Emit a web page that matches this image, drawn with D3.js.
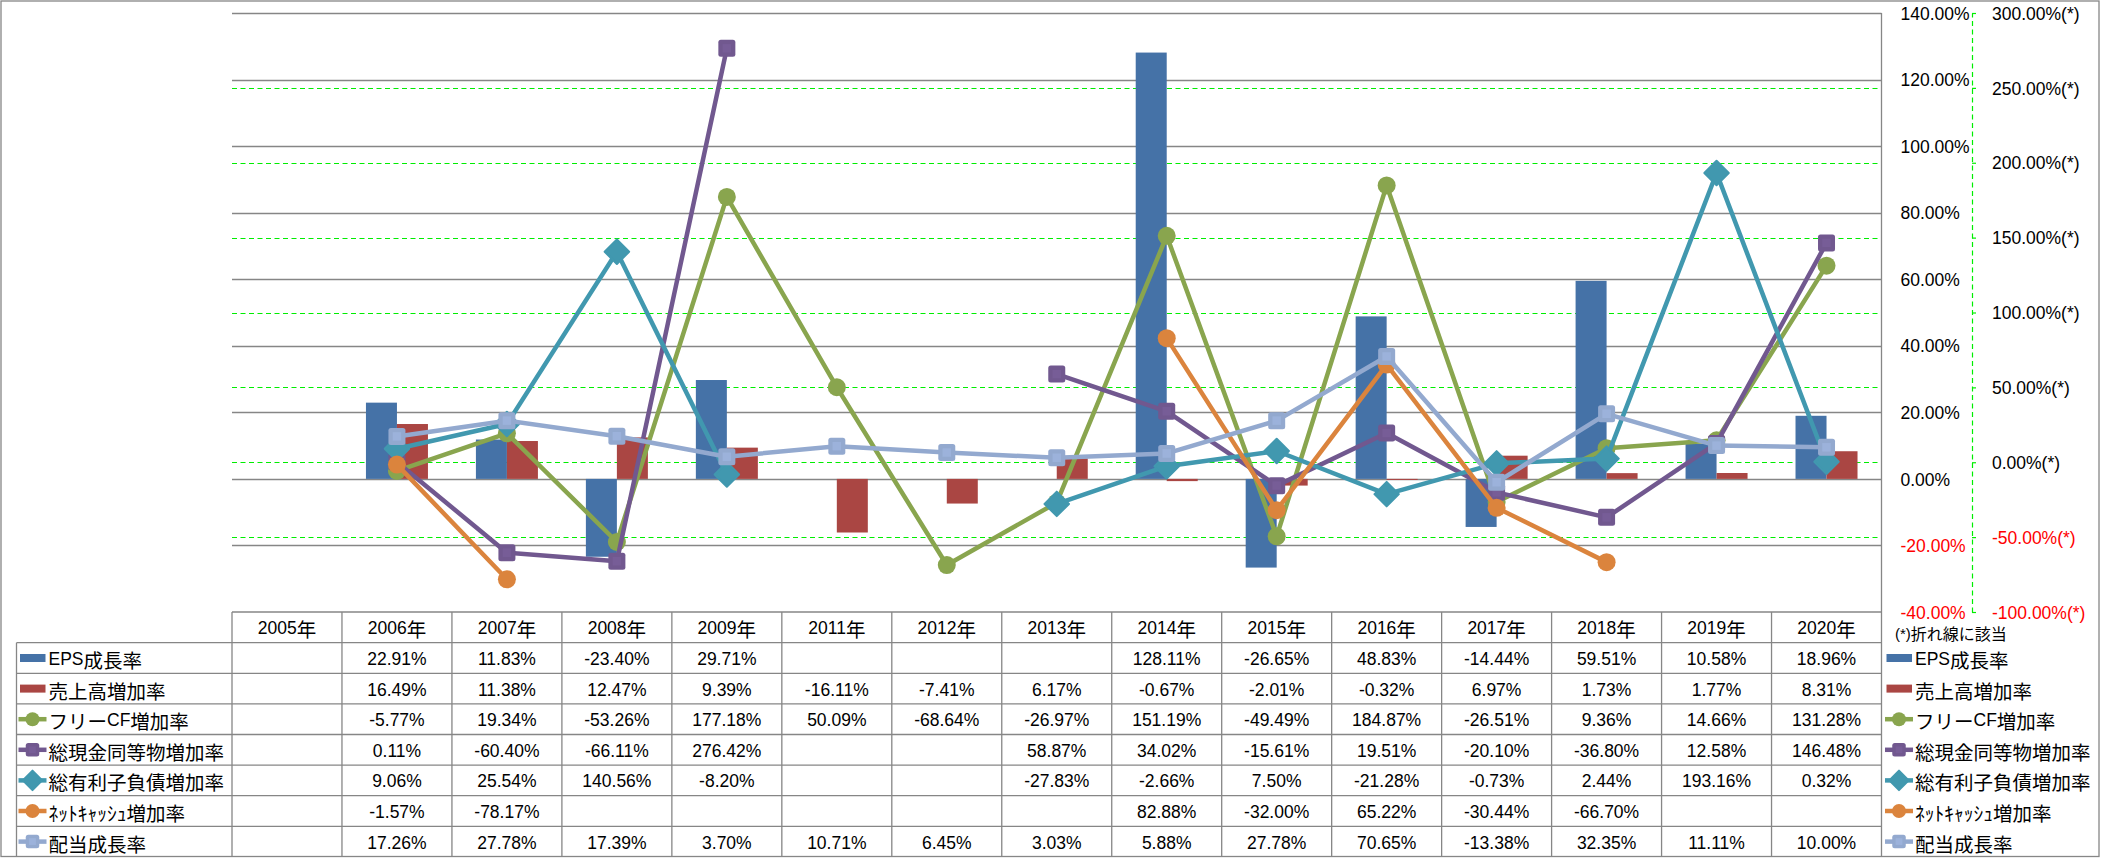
<!DOCTYPE html>
<html><head><meta charset="utf-8">
<script src="https://cdn.jsdelivr.net/npm/d3@7/dist/d3.min.js"></script>
<style>
html,body{margin:0;padding:0;background:#fff;}
svg{display:block;}
</style></head>
<body><svg id="c" width="2101" height="858"></svg>
<script>
// ---------- data ----------
const years = ["2005年","2006年","2007年","2008年","2009年","2011年","2012年","2013年","2014年","2015年","2016年","2017年","2018年","2019年","2020年"];
const epsGrowth   = [null, 22.91, 11.83, -23.40, 29.71, null, null, null, 128.11, -26.65, 48.83, -14.44, 59.51, 10.58, 18.96];
const salesGrowth = [null, 16.49, 11.38, 12.47, 9.39, -16.11, -7.41, 6.17, -0.67, -2.01, -0.32, 6.97, 1.73, 1.77, 8.31];
const fcfGrowth   = [null, -5.77, 19.34, -53.26, 177.18, 50.09, -68.64, -26.97, 151.19, -49.49, 184.87, -26.51, 9.36, 14.66, 131.28];
const cashGrowth  = [null, 0.11, -60.40, -66.11, 276.42, null, null, 58.87, 34.02, -15.61, 19.51, -20.10, -36.80, 12.58, 146.48];
const debtGrowth  = [null, 9.06, 25.54, 140.56, -8.20, null, null, -27.83, -2.66, 7.50, -21.28, -0.73, 2.44, 193.16, 0.32];
const netCashGrowth = [null, -1.57, -78.17, null, null, null, null, null, 82.88, -32.00, 65.22, -30.44, -66.70, null, null];
const dividendGrowth = [null, 17.26, 27.78, 17.39, 3.70, 10.71, 6.45, 3.03, 5.88, 27.78, 70.65, -13.38, 32.35, 11.11, 10.00];

const seriesNames = ["EPS成長率","売上高増加率","フリーCF増加率","総現金同等物増加率","総有利子負債増加率","ﾈｯﾄｷｬｯｼｭ増加率","配当成長率"];
const primaryTicks = [-40,-20,0,20,40,60,80,100,120,140];
const secondaryTicks = [-100,-50,0,50,100,150,200,250,300];
const noteText = "(*)折れ線に該当";

// ---------- series definitions ----------
const barSeries = [
  {name: seriesNames[0], values: epsGrowth, color: "#4572A7"},
  {name: seriesNames[1], values: salesGrowth, color: "#AA4643"}
];
const lineSeries = [
  {name: seriesNames[2], values: fcfGrowth, color: "#89A54E", marker: "circle"},
  {name: seriesNames[3], values: cashGrowth, color: "#71588F", marker: "square"},
  {name: seriesNames[4], values: debtGrowth, color: "#4198AF", marker: "diamond"},
  {name: seriesNames[5], values: netCashGrowth, color: "#DB843D", marker: "circle"},
  {name: seriesNames[6], values: dividendGrowth, color: "#93A9CF", marker: "square"}
];
const allSeries = [...barSeries.map(s=>({...s,type:"bar"})), ...lineSeries.map(s=>({...s,type:"line"}))];

// ---------- layout ----------
const svg = d3.select("#c");
const W = 2101, H = 858;
const plot = {left: 232, right: 1881.5, top: 13, bottom: 612};
const gridColor = "#868686";
const latinFont = "'Liberation Sans', Arial, sans-serif";
const cjkFont = "'Noto Sans CJK JP', 'Noto Sans CJK SC', sans-serif";

const x = d3.scaleBand().domain(years).range([plot.left, plot.right]).padding(0);
const barW = 31;
const xb = d3.scaleBand().domain(barSeries.map(s=>s.name))
  .range([0, x.bandwidth()]).paddingInner(0).paddingOuter((x.bandwidth()/barW - 2)/2);
const yL = d3.scaleLinear().domain([-40, 140]).range([plot.bottom, plot.top]);
const yR = d3.scaleLinear().domain([-100, 300]).range([plot.bottom, plot.top]);

// outer border
svg.append("rect").attr("x",1).attr("y",1).attr("width",W-3).attr("height",H-2.5)
  .attr("fill","#fff").attr("stroke",gridColor).attr("stroke-width",1.3);

// mixed text helper (latin runs in latin font, CJK runs in CJK font)
function mixedText(sel, str, latinSize, cjkSize){
  const parts = str.match(/[\x00-\x7F]+|[^\x00-\x7F]+/g) || [];
  parts.forEach(p=>{
    const latin = /^[\x00-\x7F]+$/.test(p);
    sel.append("tspan").text(p)
      .attr("font-family", latin ? latinFont : cjkFont)
      .attr("font-size", latin ? latinSize : cjkSize);
  });
}

// ---------- gridlines ----------
const grid = svg.append("g");
grid.selectAll("line.gp").data(primaryTicks.filter(t=>t>-40)).join("line")
  .attr("x1", plot.left).attr("x2", plot.right)
  .attr("y1", d=>Math.round(yL(d))+0.5).attr("y2", d=>Math.round(yL(d))+0.5)
  .attr("stroke", gridColor).attr("stroke-width", 1.3);
grid.selectAll("line.gs").data(secondaryTicks.filter(t=>t>-100 && t<300)).join("line")
  .attr("x1", plot.left).attr("x2", plot.right)
  .attr("y1", d=>Math.round(yR(d))+0.5).attr("y2", d=>Math.round(yR(d))+0.5)
  .attr("stroke", "#00EE00").attr("stroke-width", 1.2).attr("stroke-dasharray","5,3.5");

// ---------- bars ----------
const barsG = svg.append("g");
barSeries.forEach(s=>{
  barsG.append("g").selectAll("rect").data(s.values.map((v,i)=>({v, cat: years[i]})).filter(d=>d.v!=null))
    .join("rect")
    .attr("x", d=>x(d.cat)+xb(s.name))
    .attr("width", xb.bandwidth())
    .attr("y", d=>Math.min(yL(d.v), yL(0)))
    .attr("height", d=>Math.abs(yL(d.v)-yL(0)))
    .attr("fill", s.color);
});

// ---------- lines ----------
function drawMarker(g, type, color, size){
  if(type==="circle"){
    g.append("circle").attr("r", size/2).attr("fill", color);
  } else if(type==="square"){
    g.append("rect").attr("x",-size/2).attr("y",-size/2).attr("width",size).attr("height",size)
      .attr("rx",2.5).attr("fill", color);
    g.append("rect").attr("x",-size/4).attr("y",-size/4).attr("width",size/2).attr("height",size/2)
      .attr("fill", d3.color(color).brighter(0.25)).attr("opacity",0.6);
  } else if(type==="diamond"){
    const h = size*0.72;
    g.append("path").attr("d", `M0,${-h}L${h},0L0,${h}L${-h},0Z`).attr("fill", color)
      .attr("stroke", color).attr("stroke-width",2).attr("stroke-linejoin","round");
  }
}
const linesG = svg.append("g");
const lineGen = d3.line().defined(d=>d.v!=null).x(d=>x(d.cat)+x.bandwidth()/2).y(d=>yR(d.v));
lineSeries.forEach(s=>{
  const pts = s.values.map((v,i)=>({v, cat: years[i]}));
  const g = linesG.append("g");
  g.append("path").datum(pts).attr("d", lineGen).attr("fill","none")
    .attr("stroke", s.color).attr("stroke-width", 4.5).attr("stroke-linejoin","round");
  pts.filter(d=>d.v!=null).forEach(d=>{
    const mg = g.append("g").attr("transform", `translate(${x(d.cat)+x.bandwidth()/2},${yR(d.v)})`);
    drawMarker(mg, s.marker, s.color, s.marker==="circle" ? 18 : 17);
  });
});

// ---------- axes ----------
// primary axis line (right border of plot, extends through table)
svg.append("line").attr("x1", 1881.5).attr("x2", 1881.5).attr("y1", plot.top).attr("y2", H-1)
  .attr("stroke", gridColor).attr("stroke-width", 1.3);

const axL = svg.append("g").attr("transform", `translate(${plot.right},0)`)
  .call(d3.axisRight(yL).tickValues(primaryTicks).tickSize(0).tickPadding(19)
    .tickFormat(d=>d.toFixed(2)+"%"));
axL.select(".domain").remove();
axL.selectAll("text").attr("font-family", latinFont).attr("font-size", 17.5)
  .attr("fill", d=>d<0 ? "#FF0000" : "#000").attr("dy","0.35em");

const axR = svg.append("g").attr("transform", `translate(1972,0)`)
  .call(d3.axisRight(yR).tickValues(secondaryTicks).tickSizeInner(4).tickSizeOuter(0).tickPadding(16)
    .tickFormat(d=>d.toFixed(2)+"%(*)"));
axR.select(".domain").attr("stroke","#00EE00").attr("stroke-width",1.2).attr("stroke-dasharray","5,3.5");
axR.selectAll(".tick line").attr("stroke","#00EE00").attr("stroke-width",1.2);
axR.selectAll("text").attr("font-family", latinFont).attr("font-size", 17.5)
  .attr("fill", d=>d<0 ? "#FF0000" : "#000").attr("dy","0.35em");

// ---------- data table ----------
const tbl = svg.append("g");
const headerTop = plot.bottom, headerH = 30.7, rowH = 30.6;
const rowsTop = headerTop + headerH;
const tableBottom = H - 1.5;
const labelLeft = 16.5;
const rowY = i => rowsTop + i*rowH;

// horizontal lines: header top and header bottom over the year columns
tbl.append("line").attr("x1", plot.left).attr("x2", plot.right).attr("y1", headerTop).attr("y2", headerTop)
  .attr("stroke", gridColor).attr("stroke-width",1.3);
d3.range(allSeries.length).forEach(i=>{
  tbl.append("line").attr("x1", labelLeft).attr("x2", plot.right)
    .attr("y1", rowY(i)).attr("y2", rowY(i)).attr("stroke", gridColor).attr("stroke-width",1.3);
});
// vertical lines
tbl.append("line").attr("x1", labelLeft).attr("x2", labelLeft).attr("y1", rowsTop).attr("y2", tableBottom)
  .attr("stroke", gridColor).attr("stroke-width",1.3);
tbl.selectAll("line.v").data(years).join("line")
  .attr("x1", d=>x(d)).attr("x2", d=>x(d)).attr("y1", headerTop).attr("y2", tableBottom)
  .attr("stroke", gridColor).attr("stroke-width",1.3);

// year header text
years.forEach(yv=>{
  const t = tbl.append("text").attr("x", x(yv)+x.bandwidth()/2).attr("y", headerTop+headerH/2+1)
    .attr("text-anchor","middle").attr("dominant-baseline","central").attr("fill","#000");
  mixedText(t, yv, 17.5, 19.5);
});

// legend key
function legendKey(g, s, cx, cy){
  if(s.type==="bar"){
    g.append("rect").attr("x", cx-12.5).attr("y", cy-4).attr("width", 25.5).attr("height", 8).attr("fill", s.color);
  } else {
    g.append("line").attr("x1", cx-14).attr("x2", cx+14).attr("y1", cy).attr("y2", cy)
      .attr("stroke", s.color).attr("stroke-width", 4.5);
    const mg = g.append("g").attr("transform", `translate(${cx},${cy})`);
    drawMarker(mg, s.marker, s.color, s.marker==="circle" ? 14 : 13.5);
  }
}

allSeries.forEach((s,i)=>{
  const cy = rowY(i) + rowH/2;
  legendKey(tbl, s, 32.5, cy);
  const t = tbl.append("text").attr("x", 48.5).attr("y", cy+1).attr("dominant-baseline","central").attr("fill","#000");
  mixedText(t, s.name, 17.5, 19.5);
  s.values.forEach((v,j)=>{
    if(v==null) return;
    tbl.append("text").attr("x", x(years[j])+x.bandwidth()/2).attr("y", cy+1)
      .attr("text-anchor","middle").attr("dominant-baseline","central")
      .attr("font-family", latinFont).attr("font-size", 17.5).attr("fill","#000")
      .text(v.toFixed(2)+"%");
  });
  // right legend
  legendKey(svg, s, 1899, cy);
  const t2 = svg.append("text").attr("x", 1915).attr("y", cy+1).attr("dominant-baseline","central").attr("fill","#000");
  mixedText(t2, s.name, 17.5, 19.5);
});

// note
const nt = svg.append("text").attr("x", 1895).attr("y", 633).attr("dominant-baseline","central").attr("fill","#000");
mixedText(nt, noteText, 15, 16);
</script>
</body></html>
